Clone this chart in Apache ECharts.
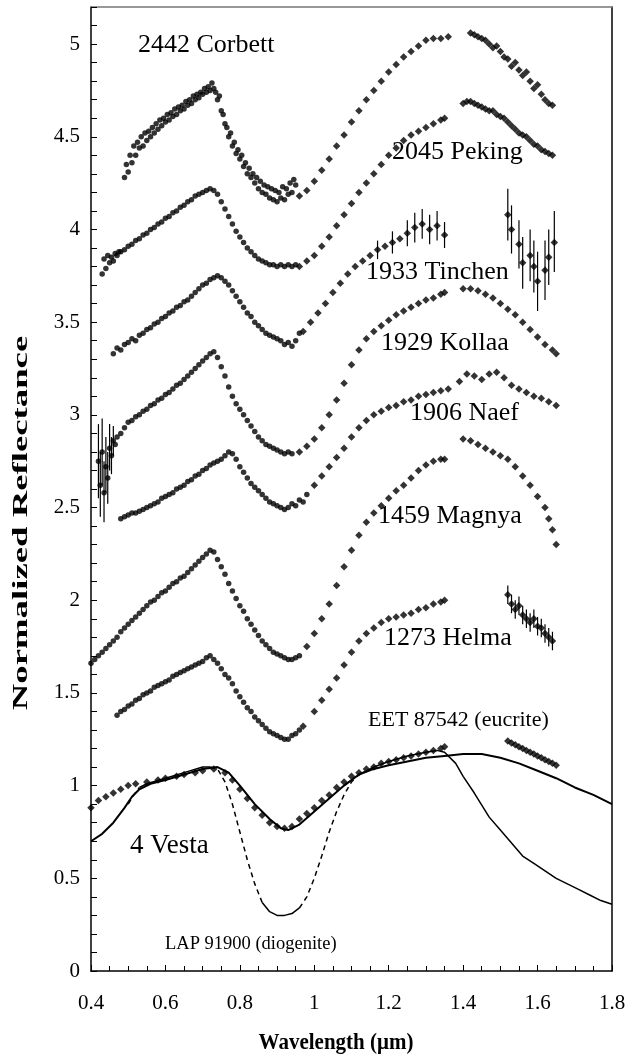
<!DOCTYPE html>
<html><head><meta charset="utf-8">
<script src="https://cdn.jsdelivr.net/npm/echarts@6/dist/echarts.min.js"></script>
<style>html,body{margin:0;padding:0;background:#fff}#c{width:639px;height:1056px}</style>
</head><body><div id="c"></div>
<script>
// ---- data (wavelength µm, normalized reflectance) ----
const corbettVis = [[0.490,4.28],[0.495,4.35],[0.500,4.31],[0.505,4.40],[0.510,4.36],[0.515,4.45],[0.520,4.40],[0.525,4.47],[0.530,4.44],[0.535,4.50],[0.540,4.45],[0.545,4.52],[0.550,4.48],[0.555,4.53],[0.560,4.50],[0.565,4.55],[0.570,4.52],[0.575,4.57],[0.580,4.54],[0.585,4.59],[0.590,4.56],[0.595,4.60],[0.600,4.58],[0.605,4.62],[0.610,4.59],[0.615,4.63],[0.620,4.61],[0.625,4.65],[0.630,4.62],[0.635,4.66],[0.640,4.64],[0.645,4.67],[0.650,4.65],[0.655,4.69],[0.660,4.67],[0.665,4.70],[0.670,4.68],[0.675,4.72],[0.680,4.70],[0.685,4.73],[0.690,4.71],[0.695,4.74],[0.700,4.73],[0.705,4.76],[0.710,4.74],[0.715,4.77],[0.720,4.75],[0.725,4.79],[0.730,4.76],[0.735,4.74],[0.740,4.70],[0.745,4.72],[0.750,4.64],[0.755,4.62],[0.760,4.57],[0.765,4.55],[0.770,4.50],[0.775,4.52],[0.780,4.45],[0.785,4.47],[0.790,4.41],[0.795,4.43],[0.800,4.38],[0.805,4.40],[0.810,4.34],[0.815,4.36],[0.820,4.30],[0.825,4.33],[0.830,4.28],[0.835,4.30],[0.840,4.25],[0.845,4.28],[0.850,4.22],[0.855,4.26],[0.860,4.20],[0.865,4.24],[0.870,4.19],[0.875,4.23],[0.880,4.17],[0.885,4.22],[0.890,4.16],[0.895,4.21],[0.900,4.15],[0.905,4.20],[0.910,4.17],[0.915,4.23],[0.920,4.16],[0.925,4.22],[0.930,4.19],[0.935,4.25],[0.940,4.20],[0.945,4.27],[0.950,4.24]];
const corbettNir = [[0.96,4.18],[0.98,4.21],[1.00,4.26],[1.02,4.32],[1.04,4.38],[1.06,4.45],[1.08,4.51],[1.10,4.58],[1.12,4.64],[1.14,4.70],[1.16,4.75],[1.18,4.80],[1.20,4.85],[1.22,4.89],[1.24,4.93],[1.26,4.96],[1.28,4.99],[1.30,5.02],[1.32,5.03],[1.34,5.03],[1.36,5.04],
  [1.42,5.06],[1.43,5.05],[1.44,5.04],[1.45,5.03],[1.46,5.02],[1.47,5.00],[1.48,4.98],[1.49,4.99],[1.50,4.96],[1.51,4.93],[1.52,4.92],[1.53,4.88],[1.54,4.90],[1.55,4.86],[1.56,4.83],[1.57,4.85],[1.58,4.80],[1.59,4.76],[1.60,4.78],[1.61,4.73],[1.62,4.70],[1.63,4.68],[1.64,4.67]];
const pekingVis = [[0.430,3.76],[0.435,3.84],[0.440,3.79],[0.445,3.86],[0.450,3.82],[0.455,3.85],[0.460,3.83],[0.465,3.87],[0.470,3.86],[0.475,3.88],[0.480,3.88],[0.490,3.89],[0.500,3.91],[0.510,3.92],[0.520,3.94],[0.530,3.95],[0.540,3.97],[0.550,3.98],[0.560,4.00],[0.570,4.01],[0.580,4.03],[0.590,4.04],[0.600,4.06],[0.610,4.07],[0.620,4.09],[0.630,4.10],[0.640,4.12],[0.650,4.13],[0.660,4.15],[0.670,4.16],[0.680,4.18],[0.690,4.19],[0.700,4.20],[0.710,4.21],[0.720,4.22],[0.730,4.21],[0.740,4.19],[0.750,4.15],[0.760,4.11],[0.770,4.07],[0.780,4.03],[0.790,3.99],[0.800,3.96],[0.810,3.93],[0.820,3.90],[0.830,3.88],[0.840,3.86],[0.850,3.84],[0.860,3.83],[0.870,3.82],[0.880,3.81],[0.890,3.81],[0.900,3.80],[0.910,3.81],[0.920,3.80],[0.930,3.81],[0.940,3.80],[0.950,3.81]];
const pekingNir = [[0.96,3.80],[0.98,3.83],[1.00,3.86],[1.02,3.91],[1.04,3.96],[1.06,4.02],[1.08,4.08],[1.10,4.14],[1.12,4.20],[1.14,4.25],[1.16,4.30],[1.18,4.35],[1.20,4.40],[1.22,4.44],[1.24,4.48],[1.26,4.51],[1.28,4.53],[1.30,4.55],[1.32,4.57],[1.34,4.59],[1.35,4.60],
  [1.40,4.68],[1.41,4.69],[1.42,4.69],[1.43,4.68],[1.44,4.67],[1.45,4.66],[1.46,4.65],[1.47,4.64],[1.48,4.64],[1.49,4.62],[1.50,4.61],[1.51,4.60],[1.52,4.58],[1.53,4.56],[1.54,4.54],[1.55,4.52],[1.56,4.51],[1.57,4.50],[1.58,4.48],[1.59,4.46],[1.60,4.45],[1.61,4.43],[1.62,4.42],[1.63,4.41],[1.64,4.40]];
const tinchenVis = [[0.46,3.33],[0.47,3.36],[0.48,3.35],[0.49,3.38],[0.50,3.39],[0.51,3.41],[0.52,3.40],[0.53,3.43],[0.54,3.44],[0.55,3.46],[0.56,3.47],[0.57,3.49],[0.58,3.50],[0.59,3.52],[0.60,3.53],[0.61,3.55],[0.62,3.56],[0.63,3.58],[0.64,3.59],[0.65,3.61],[0.66,3.62],[0.67,3.64],[0.68,3.66],[0.69,3.68],[0.70,3.70],[0.71,3.71],[0.72,3.73],[0.73,3.74],[0.74,3.75],[0.75,3.74],[0.76,3.72],[0.77,3.70],[0.78,3.67],[0.79,3.64],[0.80,3.61],[0.81,3.58],[0.82,3.55],[0.83,3.53],[0.84,3.50],[0.85,3.48],[0.86,3.46],[0.87,3.44],[0.88,3.43],[0.89,3.42],[0.90,3.41],[0.91,3.40],[0.92,3.38],[0.93,3.39],[0.94,3.37],[0.95,3.40],[0.96,3.44]];
const tinchenNir = [[0.97,3.45],[0.99,3.50],[1.01,3.55],[1.03,3.60],[1.05,3.66],[1.07,3.71],[1.09,3.76],[1.11,3.80],[1.13,3.83],[1.15,3.86],[1.17,3.89],[1.19,3.91],[1.21,3.93],[1.23,3.95],[1.25,3.98],[1.27,4.01],[1.29,4.03],[1.31,4.00],[1.33,4.02],[1.35,3.97],
  [1.52,4.08],[1.53,4.00],[1.55,3.92],[1.56,3.82],[1.58,3.86],[1.59,3.80],[1.60,3.72],[1.62,3.78],[1.63,3.85],[1.645,3.93]];
const tinchenErr = [[1.17,3.84,3.94],[1.21,3.87,3.99],[1.25,3.91,4.05],[1.27,3.93,4.09],[1.29,3.95,4.11],[1.31,3.92,4.08],[1.33,3.94,4.10],[1.35,3.90,4.04],
  [1.52,3.94,4.22],[1.53,3.87,4.13],[1.55,3.79,4.05],[1.56,3.68,3.96],[1.58,3.72,4.00],[1.59,3.66,3.94],[1.60,3.56,3.88],[1.62,3.62,3.94],[1.63,3.70,4.00],[1.645,3.77,4.10]];
const kollaaVis = [[0.420,2.75],[0.425,2.62],[0.430,2.80],[0.435,2.58],[0.440,2.72],[0.445,2.66],[0.450,2.82],[0.455,2.78],[0.460,2.86],[0.465,2.84],[0.470,2.88],[0.480,2.90],[0.490,2.93],[0.500,2.96],[0.510,2.97],[0.520,2.99],[0.530,3.00],[0.540,3.02],[0.550,3.03],[0.560,3.05],[0.570,3.06],[0.580,3.08],[0.590,3.09],[0.600,3.11],[0.610,3.12],[0.620,3.14],[0.630,3.16],[0.640,3.17],[0.650,3.19],[0.660,3.21],[0.670,3.23],[0.680,3.25],[0.690,3.27],[0.700,3.29],[0.710,3.31],[0.720,3.33],[0.730,3.34],[0.740,3.31],[0.750,3.26],[0.760,3.21],[0.770,3.15],[0.780,3.10],[0.790,3.06],[0.800,3.03],[0.810,3.00],[0.820,2.97],[0.830,2.94],[0.840,2.91],[0.850,2.88],[0.860,2.86],[0.870,2.84],[0.880,2.83],[0.890,2.82],[0.900,2.81],[0.910,2.80],[0.920,2.79],[0.930,2.80],[0.940,2.79]];
const kollaaNir = [[0.96,2.80],[0.98,2.83],[1.00,2.87],[1.02,2.93],[1.04,3.00],[1.06,3.08],[1.08,3.17],[1.10,3.27],[1.12,3.35],[1.14,3.41],[1.16,3.45],[1.18,3.48],[1.20,3.51],[1.22,3.54],[1.24,3.56],[1.26,3.58],[1.28,3.60],[1.30,3.62],[1.32,3.63],[1.34,3.65],[1.35,3.66],
  [1.40,3.68],[1.42,3.68],[1.44,3.67],[1.46,3.65],[1.48,3.63],[1.50,3.60],[1.52,3.57],[1.54,3.54],[1.56,3.50],[1.58,3.46],[1.60,3.42],[1.62,3.38],[1.64,3.35],[1.65,3.33]];
const kollaaErr = [[0.420,2.55,2.95],[0.425,2.45,2.80],[0.430,2.62,2.98],[0.435,2.42,2.75],[0.440,2.58,2.88],[0.445,2.52,2.80],[0.450,2.70,2.95],[0.455,2.68,2.88],[0.460,2.78,2.94]];
const naefVis = [[0.480,2.44],[0.490,2.45],[0.500,2.46],[0.510,2.47],[0.520,2.47],[0.530,2.48],[0.540,2.49],[0.550,2.50],[0.560,2.51],[0.570,2.52],[0.580,2.53],[0.590,2.55],[0.600,2.56],[0.610,2.57],[0.620,2.58],[0.630,2.60],[0.640,2.61],[0.650,2.62],[0.660,2.64],[0.670,2.65],[0.680,2.67],[0.690,2.68],[0.700,2.70],[0.710,2.71],[0.720,2.73],[0.730,2.74],[0.740,2.75],[0.750,2.76],[0.760,2.78],[0.770,2.80],[0.780,2.79],[0.790,2.76],[0.800,2.72],[0.810,2.69],[0.820,2.66],[0.830,2.63],[0.840,2.61],[0.850,2.59],[0.860,2.57],[0.870,2.55],[0.880,2.53],[0.890,2.52],[0.900,2.51],[0.910,2.50],[0.920,2.49],[0.930,2.50],[0.940,2.52],[0.950,2.51],[0.960,2.54],[0.970,2.53],[0.980,2.57]];
const naefNir = [[1.00,2.62],[1.02,2.67],[1.04,2.72],[1.06,2.77],[1.08,2.82],[1.10,2.88],[1.12,2.93],[1.14,2.97],[1.16,3.00],[1.18,3.02],[1.20,3.04],[1.22,3.05],[1.24,3.07],[1.26,3.08],[1.28,3.10],[1.30,3.11],[1.32,3.12],[1.34,3.13],[1.36,3.14],
  [1.39,3.18],[1.41,3.22],[1.43,3.21],[1.45,3.19],[1.47,3.22],[1.49,3.23],[1.51,3.20],[1.53,3.16],[1.55,3.14],[1.57,3.12],[1.59,3.10],[1.61,3.09],[1.63,3.07],[1.65,3.05]];
const magnyaVis = [[0.400,1.66],[0.410,1.68],[0.420,1.70],[0.430,1.72],[0.440,1.74],[0.450,1.76],[0.460,1.78],[0.470,1.80],[0.480,1.83],[0.490,1.85],[0.500,1.87],[0.510,1.89],[0.520,1.91],[0.530,1.93],[0.540,1.95],[0.550,1.97],[0.560,1.99],[0.570,2.00],[0.580,2.02],[0.590,2.04],[0.600,2.05],[0.610,2.07],[0.620,2.09],[0.630,2.10],[0.640,2.12],[0.650,2.13],[0.660,2.15],[0.670,2.17],[0.680,2.19],[0.690,2.21],[0.700,2.23],[0.710,2.25],[0.720,2.27],[0.730,2.26],[0.740,2.22],[0.750,2.18],[0.760,2.14],[0.770,2.09],[0.780,2.05],[0.790,2.01],[0.800,1.97],[0.810,1.94],[0.820,1.90],[0.830,1.87],[0.840,1.84],[0.850,1.81],[0.860,1.78],[0.870,1.76],[0.880,1.74],[0.890,1.72],[0.900,1.71],[0.910,1.70],[0.920,1.69],[0.930,1.68],[0.940,1.68],[0.950,1.69],[0.960,1.70]];
const magnyaNir = [[0.98,1.75],[1.00,1.82],[1.02,1.90],[1.04,1.98],[1.06,2.08],[1.08,2.18],[1.10,2.27],[1.12,2.35],[1.14,2.42],[1.16,2.47],[1.18,2.51],[1.20,2.55],[1.22,2.59],[1.24,2.62],[1.26,2.66],[1.28,2.70],[1.30,2.73],[1.32,2.75],[1.34,2.76],[1.35,2.76],
  [1.40,2.87],[1.42,2.86],[1.44,2.84],[1.46,2.82],[1.48,2.80],[1.50,2.78],[1.52,2.76],[1.54,2.72],[1.56,2.67],[1.58,2.62],[1.60,2.56],[1.62,2.50],[1.63,2.44],[1.64,2.38],[1.65,2.30]];
const helmaVis = [[0.470,1.38],[0.480,1.40],[0.490,1.41],[0.500,1.43],[0.510,1.44],[0.520,1.46],[0.530,1.47],[0.540,1.49],[0.550,1.50],[0.560,1.51],[0.570,1.53],[0.580,1.54],[0.590,1.55],[0.600,1.56],[0.610,1.57],[0.620,1.59],[0.630,1.60],[0.640,1.61],[0.650,1.62],[0.660,1.63],[0.670,1.64],[0.680,1.65],[0.690,1.66],[0.700,1.67],[0.710,1.69],[0.720,1.70],[0.730,1.68],[0.740,1.66],[0.750,1.63],[0.760,1.60],[0.770,1.58],[0.780,1.55],[0.790,1.51],[0.800,1.48],[0.810,1.45],[0.820,1.42],[0.830,1.40],[0.840,1.37],[0.850,1.35],[0.860,1.33],[0.870,1.31],[0.880,1.29],[0.890,1.28],[0.900,1.27],[0.910,1.26],[0.920,1.25],[0.930,1.25],[0.940,1.27],[0.950,1.28],[0.960,1.30]];
const helmaNir = [[0.97,1.32],[1.00,1.40],[1.02,1.46],[1.04,1.52],[1.06,1.58],[1.08,1.65],[1.10,1.72],[1.12,1.78],[1.14,1.82],[1.16,1.85],[1.18,1.88],[1.20,1.90],[1.22,1.91],[1.24,1.92],[1.26,1.93],[1.28,1.95],[1.30,1.96],[1.32,1.98],[1.34,1.99],[1.35,2.00],
  [1.52,2.03],[1.53,1.98],[1.54,1.95],[1.55,1.97],[1.56,1.92],[1.57,1.90],[1.58,1.88],[1.59,1.90],[1.60,1.86],[1.61,1.85],[1.62,1.82],[1.63,1.80],[1.64,1.78]];
const helmaErr = [[1.52,1.98,2.08],[1.53,1.93,2.03],[1.54,1.90,2.00],[1.55,1.92,2.02],[1.56,1.87,1.97],[1.57,1.85,1.95],[1.58,1.83,1.93],[1.59,1.85,1.95],[1.60,1.81,1.91],[1.61,1.80,1.90],[1.62,1.77,1.87],[1.63,1.75,1.85],[1.64,1.73,1.83]];
const eetPts = [[0.40,0.88],[0.42,0.92],[0.44,0.94],[0.46,0.96],[0.48,0.98],[0.50,1.00],[0.52,1.01],[0.55,1.02],[0.58,1.03],[0.60,1.04],[0.63,1.05],[0.65,1.06],[0.68,1.07],[0.70,1.08],[0.73,1.09],[0.76,1.07],[0.78,1.03],[0.80,0.98],[0.82,0.93],[0.84,0.88],[0.86,0.84],[0.88,0.80],[0.90,0.78],[0.92,0.77],[0.94,0.78],[0.96,0.82],[0.98,0.85],[1.00,0.88],[1.02,0.92],[1.04,0.95],[1.06,0.99],[1.08,1.02],[1.10,1.05],[1.12,1.07],[1.14,1.09],[1.16,1.10],[1.18,1.12],[1.20,1.13],[1.22,1.14],[1.24,1.15],[1.26,1.16],[1.28,1.17],[1.30,1.18],[1.32,1.19],[1.34,1.20],[1.35,1.21],
  [1.52,1.24],[1.53,1.23],[1.54,1.22],[1.55,1.21],[1.56,1.20],[1.57,1.19],[1.58,1.18],[1.59,1.17],[1.60,1.16],[1.61,1.15],[1.62,1.14],[1.63,1.13],[1.64,1.12],[1.65,1.11]];
const vestaLine = [[0.40,0.70],[0.43,0.74],[0.46,0.80],[0.49,0.88],[0.51,0.94],[0.53,0.98],[0.56,1.01],[0.60,1.03],[0.65,1.06],[0.70,1.09],[0.74,1.10],[0.77,1.07],[0.80,1.00],[0.84,0.90],[0.88,0.82],[0.91,0.77],[0.93,0.76],[0.96,0.79],[1.00,0.86],[1.04,0.93],[1.08,1.00],[1.12,1.06],[1.16,1.09],[1.20,1.11],[1.25,1.13],[1.30,1.15],[1.35,1.16],[1.40,1.17],[1.45,1.17],[1.50,1.15],[1.55,1.12],[1.60,1.08],[1.65,1.04],[1.70,0.99],[1.75,0.95],[1.80,0.90]];
const diogDash0 = [[0.50,0.90],[0.515,0.95],[0.53,0.99]];
const diogSolidA = [[0.53,0.99],[0.55,1.01],[0.60,1.04],[0.65,1.07],[0.70,1.10],[0.72,1.10]];
const diogDashA = [[0.72,1.10],[0.74,1.09],[0.76,1.02],[0.78,0.90],[0.80,0.75],[0.82,0.60],[0.84,0.47],[0.86,0.37]];
const diogSolidB = [[0.86,0.37],[0.88,0.32],[0.90,0.30],[0.92,0.30],[0.94,0.31],[0.96,0.34]];
const diogDashB = [[0.96,0.34],[0.98,0.40],[1.00,0.50],[1.02,0.62],[1.04,0.75],[1.06,0.86],[1.08,0.95],[1.10,1.02],[1.12,1.06]];
const diogSolidC = [[1.12,1.06],[1.16,1.10],[1.20,1.13],[1.25,1.16],[1.30,1.18],[1.33,1.19],[1.35,1.18],[1.38,1.12],[1.40,1.05],[1.43,0.96],[1.47,0.83],[1.50,0.76],[1.53,0.69],[1.56,0.62],[1.59,0.58],[1.62,0.54],[1.65,0.50],[1.68,0.47],[1.71,0.44],[1.74,0.41],[1.77,0.38],[1.80,0.36]];
const labels = [
  {t:'2442 Corbett', x:138, y:48, s:26},
  {t:'2045 Peking', x:392, y:155, s:26},
  {t:'1933 Tinchen', x:366, y:275, s:26},
  {t:'1929 Kollaa', x:381, y:346, s:26},
  {t:'1906 Naef', x:410, y:416, s:26},
  {t:'1459 Magnya', x:378, y:519, s:26},
  {t:'1273 Helma', x:384, y:641, s:26},
  {t:'EET 87542 (eucrite)', x:368, y:722, s:22},
  {t:'4 Vesta', x:130, y:849, s:27},
  {t:'LAP 91900 (diogenite)', x:165, y:946, s:18.5}
];
const xTitle = 'Wavelength (\u03bcm)';
const yTitle = 'Normalized Reflectance';
// ---- chart ----
const FONT = '"Liberation Serif", "DejaVu Serif", serif';
function vis(d){return {type:'scatter', data:d, symbol:'circle', symbolSize:5.5, itemStyle:{color:'#000'}, silent:true, z:3};}
function nir(d){return {type:'scatter', data:d, symbol:'diamond', symbolSize:7.5, itemStyle:{color:'#000'}, silent:true, z:3};}
function err(d){return {type:'custom', data:d, encode:{x:0,y:[1,2]}, silent:true, z:2,
  renderItem:function(p,api){const x=api.value(0);const a=api.coord([x,api.value(1)]);const b=api.coord([x,api.value(2)]);
    return {type:'line', shape:{x1:a[0],y1:a[1],x2:b[0],y2:b[1]}, style:{stroke:'#000',lineWidth:1.2}};}};}
function line(d,w,dash){return {type:'line', data:d, showSymbol:false, symbol:'none', silent:true, z:2,
  lineStyle:{color:'#000', width:w, type:dash?[5,4]:'solid'}};}
const chart = echarts.init(document.getElementById('c'), null, {renderer:'canvas'});
const graphics = labels.map(l=>({type:'text', left:l.x, top:l.y-l.s*0.6, silent:true, z:10,
    style:{text:l.t, font:l.s+'px '+FONT, fill:'#000'}}));
graphics.push({type:'text', x:336, y:1043, silent:true, z:10, scaleY:1.1,
  style:{text:xTitle, font:'bold 21px '+FONT, fill:'#000', textAlign:'center', textVerticalAlign:'middle'}});
graphics.push({type:'text', x:22, y:523, rotation:Math.PI/2, scaleX:1.75, silent:true, z:10,
  style:{text:yTitle, font:'bold 21px '+FONT, fill:'#000', textAlign:'center', textVerticalAlign:'middle'}});
chart.setOption({
  animation:false,
  backgroundColor:'#fff',
  grid:{left:91, right:27, top:7, bottom:85},
  xAxis:[{type:'value', min:0.4, max:1.8, interval:0.2,
    axisLine:{onZero:false, lineStyle:{color:'#000', width:1.5}},
    axisTick:{inside:true, length:6, lineStyle:{color:'#000'}},
    minorTick:{show:true, splitNumber:4, length:5, lineStyle:{color:'#000'}},
    splitLine:{show:false},
    axisLabel:{color:'#000', fontSize:21, fontFamily:FONT, margin:22, formatter:v=>String(+v.toFixed(1))}},
   {type:'value', position:'top', min:0.4, max:1.8, axisLine:{onZero:false, lineStyle:{color:'#777', width:1.5}},
    axisTick:{show:false}, axisLabel:{show:false}, splitLine:{show:false}}],
  yAxis:[{type:'value', min:0, max:5.2, interval:0.5,
    axisLine:{onZero:false, lineStyle:{color:'#000', width:1.5}},
    axisTick:{inside:true, length:6, lineStyle:{color:'#000'}},
    minorTick:{show:true, splitNumber:5, length:6, lineStyle:{color:'#000'}},
    splitLine:{show:false},
    axisLabel:{color:'#000', fontSize:21, fontFamily:FONT, margin:11, showMaxLabel:false, formatter:v=>String(+v.toFixed(1))}},
   {type:'value', position:'right', min:0, max:5.2, axisLine:{onZero:false, lineStyle:{color:'#000', width:1.5}},
    axisTick:{show:false}, axisLabel:{show:false}, splitLine:{show:false}}],
  graphic: graphics,
  series:[
    vis(corbettVis), nir(corbettNir),
    vis(pekingVis), nir(pekingNir),
    vis(tinchenVis), nir(tinchenNir), err(tinchenErr),
    vis(kollaaVis), nir(kollaaNir), err(kollaaErr),
    vis(naefVis), nir(naefNir),
    vis(magnyaVis), nir(magnyaNir),
    vis(helmaVis), nir(helmaNir), err(helmaErr),
    nir(eetPts),
    line(vestaLine,2,false),
    line(diogDash0,1.5,true), line(diogSolidA,1.5,false), line(diogDashA,1.5,true), line(diogSolidB,1.5,false), line(diogDashB,1.5,true), line(diogSolidC,1.5,false)
  ]
});
</script></body></html>
